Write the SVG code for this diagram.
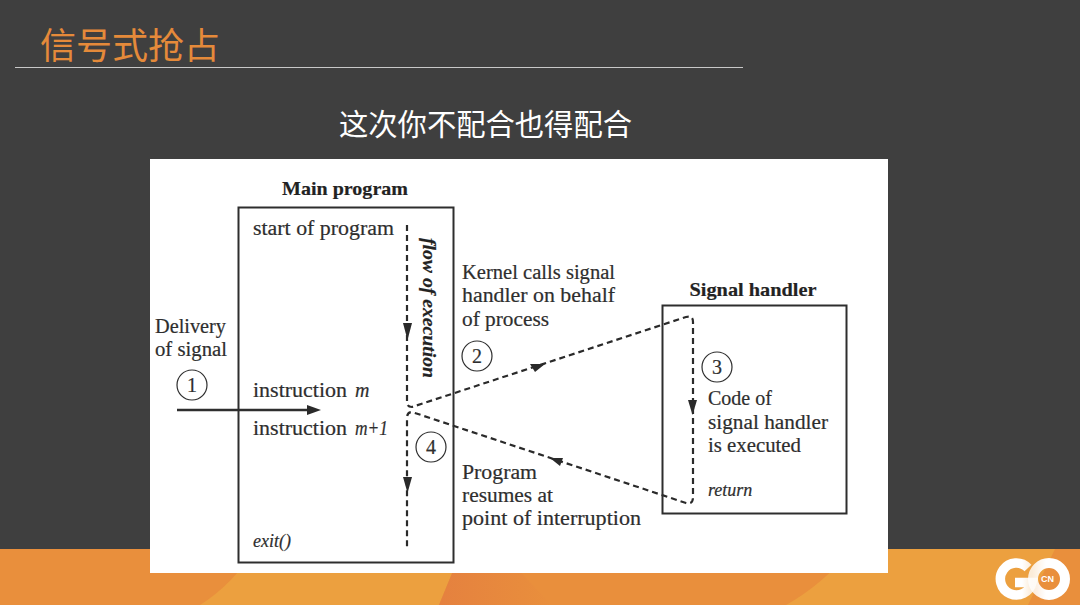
<svg xmlns="http://www.w3.org/2000/svg" width="1080" height="605" viewBox="0 0 1080 605">
<defs>
<linearGradient id="mid" x1="0" y1="0" x2="1" y2="0"><stop offset="0" stop-color="#e5813f"/><stop offset="1" stop-color="#e98f3c"/></linearGradient>
<linearGradient id="gfade" gradientUnits="userSpaceOnUse" x1="1022" y1="0" x2="1036" y2="0"><stop offset="0" stop-color="#fff"/><stop offset="1" stop-color="#fff" stop-opacity=".7"/></linearGradient>
<linearGradient id="ofade" gradientUnits="userSpaceOnUse" x1="1032" y1="0" x2="1046" y2="0"><stop offset="0" stop-color="#fff" stop-opacity=".8"/><stop offset="1" stop-color="#fff"/></linearGradient>
</defs>
<style>
.t{font-family:"Liberation Serif","Times New Roman",serif;font-size:20px;fill:#2e2e2e;stroke:#2e2e2e;stroke-width:.2}
.i{font-style:italic}
.b{font-weight:bold;font-size:19px;fill:#222}
.box{fill:none;stroke:#2e2e2e;stroke-width:2}
.d{fill:none;stroke:#2a2a2a;stroke-width:2.200;stroke-dasharray:6 4}
.c{fill:#fff;stroke:#2e2e2e;stroke-width:1.2}
.h{fill:#2a2a2a}
.cjk{font-family:"Noto Sans CJK SC","Noto Sans",sans-serif}
</style>
<rect width="1080" height="605" fill="#3f3f3f"/>
<g id="footer">
<rect y="549" width="1080" height="56" fill="#e98f3c"/>
<path d="M200 605Q232 585 255 549H462L439 605Z" fill="#eca03f"/>
<path d="M439 605L462 549H498L552 605Z" fill="url(#mid)"/>
<path d="M786 605Q822 585 852 549H1055L1028 605Z" fill="#eca03f"/>
</g>
<g id="title">
<text x="40" y="59" class="cjk" font-size="36" fill="#e58a3a">信号式抢占</text>
<rect x="15" y="67" width="728" height="1" fill="#c8c8c8"/>
</g>
<text id="subtitle" x="485.500" y="135" class="cjk" font-size="29.300" fill="#fff" text-anchor="middle">这次你不配合也得配合</text>
<rect id="figure" x="150" y="159" width="738" height="414" fill="#fff"/>
<g id="connectors">
<path class="d" d="M407 225V402Q407 407 412 407L686 317Q693 315 693 322V497Q693 505 686 503L412 412Q407 412 407 418V548"/>
<path d="M177 410H310" fill="none" stroke="#2e2e2e" stroke-width="2.4"/>
<path class="h" d="M307 405L321 410L307 415Z"/>
<path class="h" d="M403 323H412L407.500 340Z"/>
<path class="h" d="M403 477H412L407.500 493Z"/>
<path class="h" d="M530 364L545 364L535 372Z"/>
<path class="h" d="M688 400H697L692.500 415Z"/>
<path class="h" d="M550 458L563 458L560 466Z"/>
</g>
<g id="main-program">
<rect class="box" x="238.500" y="207.500" width="215" height="355"/>
<text class="t b" x="345" y="195" text-anchor="middle" textLength="126" lengthAdjust="spacingAndGlyphs">Main program</text>
<text class="t" x="253" y="235" textLength="141" lengthAdjust="spacingAndGlyphs">start of program</text>
<text class="t" x="253" y="397" textLength="94" lengthAdjust="spacingAndGlyphs">instruction</text>
<text class="t i" x="355" y="397">m</text>
<text class="t" x="253" y="435" textLength="94" lengthAdjust="spacingAndGlyphs">instruction</text>
<text class="t i" x="355" y="435" textLength="33" lengthAdjust="spacingAndGlyphs">m+1</text>
<text class="t i" x="253" y="547" style="font-size:18px">exit()</text>
<text class="t i b" transform="translate(423 238) rotate(90)" textLength="140" lengthAdjust="spacingAndGlyphs">flow of execution</text>
</g>
<g id="signal-handler">
<rect class="box" x="662.500" y="305.500" width="184" height="208"/>
<text class="t b" x="753" y="296" text-anchor="middle" textLength="127" lengthAdjust="spacingAndGlyphs">Signal handler</text>
<text class="t" x="708" y="405">Code of</text>
<text class="t" x="708" y="429" textLength="120" lengthAdjust="spacingAndGlyphs">signal handler</text>
<text class="t" x="708" y="452" textLength="93" lengthAdjust="spacingAndGlyphs">is executed</text>
<text class="t i" x="708" y="496" style="font-size:18px">return</text>
</g>
<g id="labels">
<text class="t" x="155" y="333" textLength="71" lengthAdjust="spacingAndGlyphs">Delivery</text>
<text class="t" x="155" y="356" textLength="72" lengthAdjust="spacingAndGlyphs">of signal</text>
<text class="t" x="462" y="279" textLength="153" lengthAdjust="spacingAndGlyphs">Kernel calls signal</text>
<text class="t" x="462" y="302" textLength="153" lengthAdjust="spacingAndGlyphs">handler on behalf</text>
<text class="t" x="462" y="326" textLength="87" lengthAdjust="spacingAndGlyphs">of process</text>
<text class="t" x="462" y="479" textLength="75" lengthAdjust="spacingAndGlyphs">Program</text>
<text class="t" x="462" y="502" textLength="91" lengthAdjust="spacingAndGlyphs">resumes at</text>
<text class="t" x="462" y="525" textLength="179" lengthAdjust="spacingAndGlyphs">point of interruption</text>
</g>
<g id="step-1"><circle class="c" cx="192" cy="385" r="15"/><text class="t" x="192" y="392" text-anchor="middle">1</text></g>
<g id="step-2"><circle class="c" cx="477" cy="356" r="15"/><text class="t" x="477" y="363" text-anchor="middle">2</text></g>
<g id="step-3"><circle class="c" cx="717" cy="367" r="15"/><text class="t" x="717" y="374" text-anchor="middle">3</text></g>
<g id="step-4"><circle class="c" cx="431" cy="447" r="15"/><text class="t" x="431" y="454" text-anchor="middle">4</text></g>
<g id="logo">
<circle cx="1049" cy="579" r="16" fill="none" stroke="url(#ofade)" stroke-width="10"/>
<path d="M1028 568A16 16 0 1 0 1032 582.500H1015" fill="none" stroke="url(#gfade)" stroke-width="9.500"/>
<text x="1047.500" y="582" font-family="Liberation Sans,sans-serif" font-weight="bold" font-size="9" fill="#fff" text-anchor="middle">CN</text>
</g>
</svg>
